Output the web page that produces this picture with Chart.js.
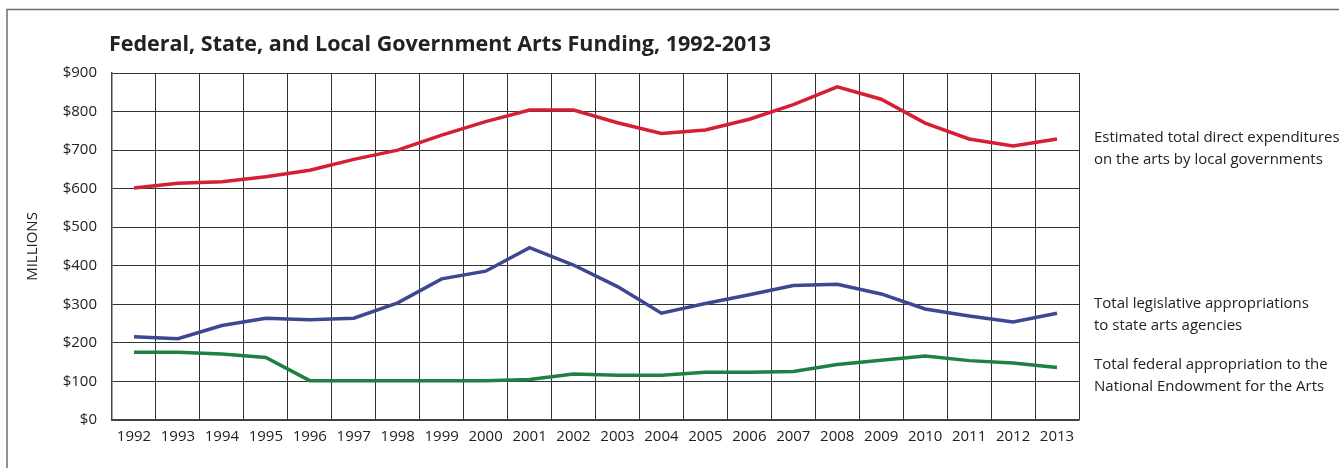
<!DOCTYPE html>
<html>
<head>
<meta charset="utf-8">
<script src="https://cdn.jsdelivr.net/npm/chart.js@4.4.1/dist/chart.umd.min.js"></script>
<style>
  html, body { margin: 0; padding: 0; background: #fff; }
  #wrap { position: relative; width: 1339px; height: 468px; }
</style>
</head>
<body>
<div id="wrap"><canvas id="chart"></canvas></div>
<script>
const years = ["1992", "1993", "1994", "1995", "1996", "1997", "1998", "1999", "2000", "2001", "2002",
  "2003", "2004", "2005", "2006", "2007", "2008", "2009", "2010", "2011", "2012", "2013"];

const localFunding = [602, 614, 618, 631, 648, 676, 700, 739, 774, 804, 804,
  771, 743, 752, 780, 818, 864, 832, 770, 729, 711, 729];
const stateFunding = [216, 211, 245, 264, 260, 264, 304, 366, 386, 447, 402,
  346, 277, 302, 325, 349, 352, 327, 288, 270, 254, 277];
const federalFunding = [176, 176, 171, 162, 102, 102, 102, 102, 102, 105, 119,
  116, 116, 124, 124, 126, 144, 155, 166, 154, 148, 136];

const yTicks = [0, 100, 200, 300, 400, 500, 600, 700, 800, 900];

const seriesLabels = [
  ["Estimated total direct expenditures", "on the arts by local governments"],
  ["Total legislative appropriations", "to state arts agencies"],
  ["Total federal appropriation to the", "National Endowment for the Arts"],
];

const FONT = "'Open Sans', sans-serif";
Chart.defaults.font.family = "Open Sans";
Chart.defaults.color = "#222";

// frame, title and right-hand notes
const decorations = {
  id: "decorations",
  afterDraw(chart) {
    const c = chart.ctx;
    c.save();
    c.strokeStyle = "#6e6e6e";
    c.lineWidth = 1.5;
    c.strokeRect(7, 9.5, 1400, 500);

    c.fillStyle = "#222";
    c.font = "bold 21.5px " + FONT;
    c.textBaseline = "alphabetic";
    c.textAlign = "left";
    c.fillText("Federal, State, and Local Government Arts Funding, 1992-2013", 109, 51);

    c.font = "15px " + FONT;
    c.textBaseline = "middle";
    const tops = [138, 304, 365];
    seriesLabels.forEach((lines, i) => {
      lines.forEach((t, j) => c.fillText(t, 1094, tops[i] + j * 21.5));
    });
    c.restore();
  }
};

const ctx = document.getElementById("chart");

new Chart(ctx, {
  type: "line",
  data: {
    labels: years,
    datasets: [
      {
        label: "Local",
        data: localFunding,
        borderColor: "#d61f36",
        borderWidth: 3.5,
        fill: false,
      },
      {
        label: "State",
        data: stateFunding,
        borderColor: "#3e4891",
        borderWidth: 3.5,
        fill: false,
      },
      {
        label: "Federal",
        data: federalFunding,
        borderColor: "#1e8041",
        borderWidth: 3.5,
        fill: false,
      },
    ],
  },
  plugins: [decorations],
  options: {
    responsive: true,
    maintainAspectRatio: false,
    animation: false,
    elements: {
      point: { radius: 0 },
      line: { tension: 0, borderCapStyle: "butt" },
    },
    layout: {
      padding: { top: 73, right: 260, bottom: 0, left: 0 },
    },
    plugins: {
      legend: { display: false },
      title: { display: false },
      tooltip: { enabled: false },
    },
    scales: {
      x: {
        offset: true,
        grid: {
          offset: true,
          color: "#333",
          lineWidth: 1,
          drawTicks: false,
        },
        border: { color: "#444", width: 1.5 },
        ticks: {
          padding: 8,
          maxRotation: 0,
          autoSkip: false,
          font: { size: 15 },
          color: "#222",
        },
        afterFit(scale) { scale.height = 48; },
      },
      y: {
        min: 0,
        max: 900,
        afterBuildTicks(scale) {
          scale.ticks = yTicks.map(v => ({ value: v }));
        },
        grid: {
          color: "#333",
          lineWidth: 1,
          drawTicks: false,
        },
        border: { color: "#444", width: 1.5 },
        ticks: {
          padding: 15,
          font: { size: 15 },
          color: "#222",
          callback: v => "$" + v,
        },
        title: {
          display: true,
          text: "MILLIONS",
          font: { size: 15 },
          color: "#222",
          padding: { top: 24, bottom: 0 },
        },
        afterFit(scale) { scale.width = 112; },
      },
    },
  },
});
</script>
</body>
</html>
